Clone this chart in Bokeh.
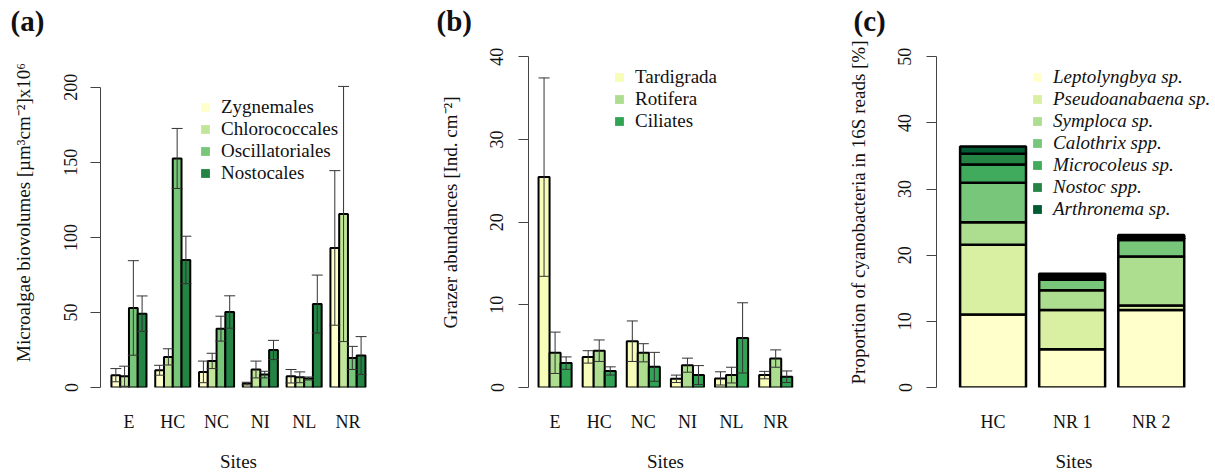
import numpy as np
from bokeh.plotting import figure
from bokeh.models import Range1d, FixedTicker, Legend, LegendItem, Title
from bokeh.layouts import row
from bokeh.embed import file_html
from bokeh.resources import INLINE

FONT = "Liberation Serif"
TXT = "#111111"

# ---------------- data (a) ----------------
sites_a = ["E", "HC", "NC", "NI", "NL", "NR"]
names_a = ["Zygnemales", "Chlorococcales", "Oscillatoriales", "Nostocales"]
colors_a = ["#FFFFCC", "#C2E699", "#78C679", "#238443"]
zyg = [8.2, 11.5, 10.4, 2.6, 7.5, 93.0]
zyg_se = [4.4, 3.3, 7.2, 0.9, 4.5, 51.5]
chl = [7.5, 20.4, 17.7, 12.0, 6.8, 115.6]
chl_se = [6.7, 5.4, 5.1, 5.6, 3.6, 85.0]
osc = [53.0, 152.6, 39.2, 8.6, 6.0, 19.7]
osc_se = [31.5, 20.0, 8.3, 2.2, 1.0, 7.7]
nos = [49.2, 85.0, 50.3, 25.0, 55.6, 21.3]
nos_se = [11.8, 15.8, 10.8, 6.4, 19.3, 12.6]
yticks_a = [0, 50, 100, 150, 200]

# ---------------- data (b) ----------------
sites_b = ["E", "HC", "NC", "NI", "NL", "NR"]
names_b = ["Tardigrada", "Rotifera", "Ciliates"]
colors_b = ["#F7FCB9", "#ADDD8E", "#31A354"]
tard = [25.45, 3.7, 5.6, 1.05, 1.1, 1.5]
tard_se = [12.0, 0.75, 2.45, 0.45, 0.8, 0.45]
rot = [4.2, 4.45, 4.2, 2.7, 1.5, 3.5]
rot_se = [2.5, 1.3, 1.1, 0.85, 0.95, 1.05]
cil = [2.95, 2.0, 2.5, 1.5, 6.0, 1.3]
cil_se = [0.75, 0.5, 1.75, 1.15, 4.25, 0.7]
yticks_b = [0, 10, 20, 30, 40]

# ---------------- data (c) ----------------
sites_c = ["HC", "NR 1", "NR 2"]
names_c = ["Leptolyngbya sp.", "Pseudoanabaena sp.", "Symploca sp.", "Calothrix spp.",
           "Microcoleus sp.", "Nostoc spp.", "Arthronema sp."]
colors_c = ["#FFFFCC", "#D9F0A3", "#ADDD8E", "#78C679", "#41AB5D", "#238443", "#005A32"]
lepto = [11.05, 5.8, 11.7]
pseudo = [10.55, 5.9, 0.7]
symploca = [3.4, 3.0, 7.4]
calothrix = [5.95, 1.6, 2.5]
microcoleus = [2.75, 0.3, 0.25]
nostoc = [1.65, 0.3, 0.25]
arthronema = [1.1, 0.3, 0.25]
yticks_c = [0, 10, 20, 30, 40, 50]

H = 474
TOP = 37
BOTTOM = 86


def make_fig(width, xr, yr, left, right, tag, tag_offset):
    title = Title(text=tag, align="left", offset=tag_offset, standoff=2,
                  text_font=FONT, text_font_size="29px", text_font_style="bold",
                  text_color=TXT)
    p = figure(width=width, height=H, x_range=Range1d(*xr), y_range=Range1d(*yr),
               output_backend="svg", toolbar_location=None, title=title,
               min_border_left=left, min_border_right=right,
               min_border_top=TOP, min_border_bottom=BOTTOM)
    p.outline_line_color = None
    p.grid.visible = False
    p.background_fill_color = "white"
    p.border_fill_color = "white"
    return p


def style_axes(p, yticks, ylabel, xticks, xlabels, tick_standoff, label_standoff):
    ya = p.yaxis[0]
    ya.ticker = FixedTicker(ticks=yticks)
    ya.bounds = (yticks[0], yticks[-1])
    ya.minor_tick_line_color = None
    ya.major_tick_out = 10
    ya.major_tick_in = 0
    ya.axis_line_color = "#444444"
    ya.major_tick_line_color = "#444444"
    ya.major_label_orientation = "vertical"
    ya.major_label_text_font = FONT
    ya.major_label_text_font_size = "18px"
    ya.major_label_text_color = TXT
    ya.major_label_standoff = tick_standoff
    ya.axis_label = ylabel
    ya.axis_label_text_font = FONT
    ya.axis_label_text_font_size = "19px"
    ya.axis_label_text_font_style = "normal"
    ya.axis_label_text_color = TXT
    ya.axis_label_standoff = label_standoff

    xa = p.xaxis[0]
    xa.ticker = FixedTicker(ticks=xticks)
    xa.major_label_overrides = {t: s for t, s in zip(xticks, xlabels)}
    xa.axis_line_color = None
    xa.major_tick_line_color = None
    xa.minor_tick_line_color = None
    xa.major_tick_out = 0
    xa.major_tick_in = 0
    xa.major_label_standoff = 24
    xa.major_label_text_font = FONT
    xa.major_label_text_font_size = "18px"
    xa.major_label_text_color = TXT
    xa.axis_label = "Sites"
    xa.axis_label_text_font = FONT
    xa.axis_label_text_font_size = "19px"
    xa.axis_label_text_font_style = "normal"
    xa.axis_label_text_color = TXT
    xa.axis_label_standoff = 16


def add_legend(p, names, colors, vx, vy, pitch, italic=False):
    items = []
    for n, c in zip(names, colors):
        r = p.scatter(x=[np.nan], y=[np.nan], marker="square", fill_color=c, line_color=None)
        items.append(LegendItem(label=n, renderers=[r]))
    leg = Legend(items=items, location=(vx, vy), padding=0, margin=0, spacing=0,
                 border_line_color=None, background_fill_alpha=0,
                 glyph_width=22, glyph_height=pitch, label_height=pitch,
                 label_standoff=5, label_text_font=FONT, label_text_font_size="19px",
                 label_text_color=TXT,
                 label_text_font_style="italic" if italic else "normal")
    p.add_layout(leg, "center")


def grouped_bars(p, series, errors, colors, gap):
    n = len(series)
    per = n + gap
    for s, (vals, errs, col) in enumerate(zip(series, errors, colors)):
        xs = [g * per + gap + s + 0.5 for g in range(len(vals))]
        p.vbar(x=xs, top=vals, bottom=0, width=1.0, fill_color=col,
               line_color="black", line_width=2)
    for s, (vals, errs) in enumerate(zip(series, errors)):
        xs = [g * per + gap + s + 0.5 for g in range(len(vals))]
        lo = [v - e for v, e in zip(vals, errs)]
        hi = [v + e for v, e in zip(vals, errs)]
        p.segment(x0=xs, y0=lo, x1=xs, y1=hi, line_color="#333333", line_width=1)
        p.scatter(x=xs, y=hi, marker="dash", size=11, line_color="#333333", line_width=1)
        p.scatter(x=xs, y=lo, marker="dash", size=11, line_color="#333333", line_width=1)
    return [g * per + gap + n / 2 for g in range(len(series[0]))]


# ---------------- panel (a) ----------------
pa = make_fig(418, (-0.25, 31.26), (0, 233.2), left=100, right=42, tag="(a)", tag_offset=-90)
xc_a = grouped_bars(pa, [zyg, chl, osc, nos], [zyg_se, chl_se, osc_se, nos_se], colors_a, 1)
style_axes(pa, yticks_a, "Microalgae biovolumes [µm³cm⁻²]x10⁶", xc_a, sites_a, 13, 28)
add_legend(pa, names_a, colors_a, 94, 203, 22)

# ---------------- panel (b) ----------------
pb = make_fig(412, (0.09, 24.93), (0, 42.34), left=110, right=28, tag="(b)", tag_offset=-92)
xc_b = grouped_bars(pb, [tard, rot, cil], [tard_se, rot_se, cil_se], colors_b, 1)
style_axes(pb, yticks_b, "Grazer abundances [Ind. cm⁻²]", xc_b, sites_b, 15, 27)
add_legend(pb, names_b, colors_b, 80, 255, 22)

# ---------------- panel (c) ----------------
pc = make_fig(385, (-0.158, 4.014), (0, 52.92), left=106, right=4, tag="(c)", tag_offset=-83)
xs_c = [0.2 + i * 1.2 + 0.5 for i in range(len(sites_c))]
stack_vals = [lepto, pseudo, symploca, calothrix, microcoleus, nostoc, arthronema]
bottom = [0.0] * len(sites_c)
for vals, col in zip(stack_vals, colors_c):
    top = [b + v for b, v in zip(bottom, vals)]
    pc.vbar(x=xs_c, bottom=bottom, top=top, width=1.0, fill_color=col,
            line_color="black", line_width=2.5)
    bottom = top
style_axes(pc, yticks_c, "Proportion of cyanobacteria in 16S reads [%]", xs_c, sites_c, 15, 27)
add_legend(pc, names_c, colors_c, 90, 167, 22, italic=True)

layout = row(pa, pb, pc)
open("out.html", "w").write(file_html(layout, INLINE))
